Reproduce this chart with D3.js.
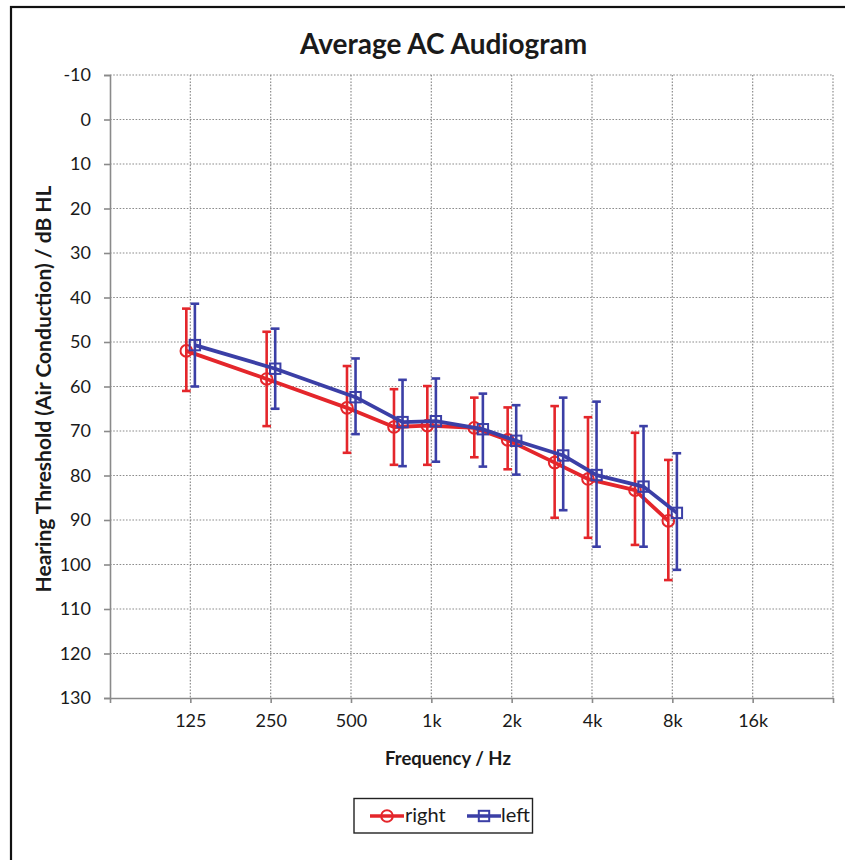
<!DOCTYPE html>
<html><head><meta charset="utf-8">
<script src="https://cdn.jsdelivr.net/npm/d3@7"></script>
<style>
body{margin:0;background:#fff}
svg{display:block}
text{font-family:Lato,"Open Sans",sans-serif;fill:#1a1a1a}
</style>
</head><body>
<svg id="chart" width="845" height="860"></svg>
<script>
// ---- data ----
const frequencies = [125, 250, 500, 750, 1000, 1500, 2000, 3000, 4000, 6000, 8000];
const rightMean  = [52.0, 58.3, 64.8, 69.1, 68.8, 69.3, 72.0, 77.1, 80.8, 83.3, 90.2];
const rightTop   = [42.5, 47.7, 55.4, 60.6, 59.9, 62.5, 64.7, 64.4, 66.9, 70.4, 76.5];
const rightBot   = [61.0, 68.9, 74.9, 77.6, 77.6, 75.9, 78.6, 89.5, 94.0, 95.6, 103.5];
const leftMean   = [50.7, 56.0, 62.4, 68.0, 67.8, 69.6, 72.2, 75.5, 79.9, 82.5, 88.4];
const leftTop    = [41.4, 47.0, 53.7, 58.5, 58.2, 61.6, 64.2, 62.5, 63.4, 68.9, 75.0];
const leftBot    = [60.0, 65.0, 70.7, 77.9, 76.9, 78.0, 79.8, 87.8, 96.0, 96.0, 101.2];
const seriesNames = ["right", "left"];
const seriesShift = [0.966, 1.04];   // plotting offset (frequency factor) so error bars don't overlap
const xTickValues = [62.5, 125, 250, 500, 1000, 2000, 4000, 8000, 16000, 32000];
const xTickLabels = ["", "125", "250", "500", "1k", "2k", "4k", "8k", "16k", ""];
const yTickValues = [-10, 0, 10, 20, 30, 40, 50, 60, 70, 80, 90, 100, 110, 120, 130];
const titleText = "Average AC Audiogram";
const xTitle = "Frequency / Hz";
const yTitle = "Hearing Threshold (Air Conduction) / dB HL";

// ---- layout / style ----
const colors = ["#e4262b", "#3b3fa6"];
const L = 110, R = 833, T = 75, B = 698;
const svg = d3.select("#chart");

svg.append("rect").attr("x", 11).attr("y", 7).attr("width", 900).attr("height", 900)
  .attr("fill", "none").attr("stroke", "#111").attr("stroke-width", 2.2);

const x = d3.scaleLog().base(2).domain([xTickValues[0], xTickValues[xTickValues.length - 1]]).range([L, R]);
const y = d3.scaleLinear().domain([yTickValues[0], yTickValues[yTickValues.length - 1]]).range([T, B]);

// grid
const grid = svg.append("g").attr("stroke", "#8c8c8c").attr("stroke-width", 1.2).attr("stroke-dasharray", "1.6,1.6");
grid.selectAll("line.h").data(yTickValues.slice(0, -1)).join("line")
  .attr("x1", L).attr("x2", R).attr("y1", d => y(d)).attr("y2", d => y(d));
grid.selectAll("line.v").data(xTickValues.slice(1)).join("line")
  .attr("x1", d => x(d)).attr("x2", d => x(d)).attr("y1", T).attr("y2", B);

// axes
const yAxis = svg.append("g").attr("transform", `translate(${L},0)`)
  .call(d3.axisLeft(y).tickValues(yTickValues).tickSize(6).tickPadding(13).tickFormat(d => String(d)));
const xAxis = svg.append("g").attr("transform", `translate(0,${B})`)
  .call(d3.axisBottom(x).tickValues(xTickValues).tickSizeInner(5).tickSizeOuter(0).tickPadding(11)
    .tickFormat((d, i) => xTickLabels[i]));
[yAxis, xAxis].forEach(a => {
  a.selectAll("path,line").attr("stroke", "#8a8a8a").attr("stroke-width", 1.6);
  a.selectAll("text").attr("font-size", 18).attr("font-family", "Lato").attr("fill", "#1a1a1a");
});

// titles
svg.append("text").attr("x", 443.5).attr("y", 54).attr("text-anchor", "middle")
  .attr("font-size", 28).attr("font-weight", "bold").text(titleText);
svg.append("text").attr("x", 448).attr("y", 765).attr("text-anchor", "middle")
  .attr("font-size", 18.5).attr("font-weight", "bold").text(xTitle);
svg.append("text").attr("transform", `translate(51,389) rotate(-90)`)
  .attr("text-anchor", "middle").attr("font-size", 21).attr("font-weight", "bold").text(yTitle);

// series
const series = [
  {name: seriesNames[0], mean: rightMean, top: rightTop, bot: rightBot, shift: seriesShift[0], color: colors[0], marker: "circle"},
  {name: seriesNames[1], mean: leftMean, top: leftTop, bot: leftBot, shift: seriesShift[1], color: colors[1], marker: "square"}
];
const line = d3.line().x(d => x(d.f)).y(d => y(d.v));

function drawMarker(g, type, cx, cy, color) {
  if (type === "circle") {
    g.append("circle").attr("cx", cx).attr("cy", cy).attr("r", 5.8)
      .attr("fill", "none").attr("stroke", color).attr("stroke-width", 2);
  } else {
    g.append("rect").attr("x", cx - 5.2).attr("y", cy - 5.2).attr("width", 10.4).attr("height", 10.4)
      .attr("fill", "none").attr("stroke", color).attr("stroke-width", 2);
  }
}

series.forEach(s => {
  const pts = frequencies.map((f, i) => ({f: f * s.shift, v: s.mean[i], t: s.top[i], b: s.bot[i]}));
  const g = svg.append("g");
  const eb = g.append("g").attr("stroke", s.color).attr("stroke-width", 2.6);
  pts.forEach(p => {
    const cx = x(p.f);
    eb.append("line").attr("x1", cx).attr("x2", cx).attr("y1", y(p.t)).attr("y2", y(p.b));
    eb.append("line").attr("x1", cx - 4.3).attr("x2", cx + 4.3).attr("y1", y(p.t)).attr("y2", y(p.t));
    eb.append("line").attr("x1", cx - 4.3).attr("x2", cx + 4.3).attr("y1", y(p.b)).attr("y2", y(p.b));
  });
  g.append("path").datum(pts).attr("d", line).attr("fill", "none")
    .attr("stroke", s.color).attr("stroke-width", 3.8).attr("stroke-linejoin", "round");
  pts.forEach(p => drawMarker(g, s.marker, x(p.f), y(p.v), s.color));
});

// legend
const lg = svg.append("g");
lg.append("rect").attr("x", 354).attr("y", 798.5).attr("width", 178.5).attr("height", 34.5)
  .attr("fill", "#fff").attr("stroke", "#222").attr("stroke-width", 1.4);
const legendItems = [{x0: 370, tx: 405}, {x0: 467, tx: 501}];
series.forEach((s, i) => {
  const it = legendItems[i], cy = 816;
  lg.append("line").attr("x1", it.x0).attr("x2", it.x0 + 34).attr("y1", cy).attr("y2", cy)
    .attr("stroke", s.color).attr("stroke-width", 3.6);
  drawMarker(lg, s.marker, it.x0 + 17, cy, s.color);
  lg.append("text").attr("x", it.tx).attr("y", 822).attr("font-size", 20).text(s.name);
});
</script>
</body></html>
